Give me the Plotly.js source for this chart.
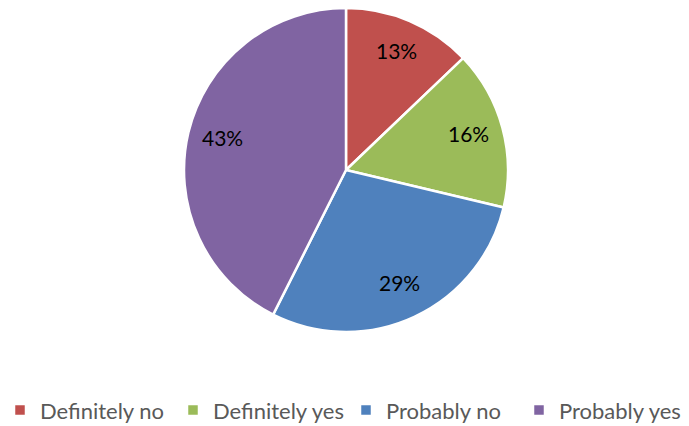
<!DOCTYPE html>
<html><head><meta charset="utf-8">
<script src="https://cdn.plot.ly/plotly-3.0.1.min.js"></script>
<style>html,body{margin:0;padding:0;background:#fff}</style>
</head><body>
<div id="chart" style="width:689px;height:426px"></div>
<script>
const labels = ["Definitely no", "Definitely yes", "Probably no", "Probably yes"];
const values = [13, 16, 29, 43];
const colors = ["#C0504D", "#9BBB59", "#4F81BD", "#8064A2"];

const W = 689, H = 426;
const dom = {x: [184/W, 508/W], y: [(H-332)/H, (H-8)/H]};

// data labels placed along each slice's mid-angle, computed from the values
const total = values.reduce((a, b) => a + b, 0);
const cx = (dom.x[0] + dom.x[1]) / 2 * W;
const cy = (1 - (dom.y[0] + dom.y[1]) / 2) * H;
const R = Math.min((dom.x[1] - dom.x[0]) * W, (dom.y[1] - dom.y[0]) * H) / 2;
const annotations = [];
let cum = 0;
values.forEach((v, i) => {
  const mid = (cum + v / 2) / total * 2 * Math.PI;
  cum += v;
  const px = cx + 0.785 * R * Math.sin(mid);
  const py = cy - 0.785 * R * Math.cos(mid);
  annotations.push({
    x: px / W, y: 1 - py / H, xref: "paper", yref: "paper",
    text: v + "%", showarrow: false, xanchor: "center", yanchor: "middle", yshift: 3,
    font: {family: "Lato, 'Open Sans', sans-serif", size: 21, color: "#000000"}
  });
});

Plotly.newPlot("chart", [{
  type: "pie",
  labels: labels,
  values: values,
  sort: false,
  direction: "clockwise",
  rotation: 0,
  marker: {colors: colors, line: {color: "#ffffff", width: 2.5}},
  textinfo: "none",
  domain: dom,
  hoverinfo: "label+percent"
}], {
  width: W, height: H,
  margin: {l: 0, r: 0, t: 0, b: 0, autoexpand: false},
  paper_bgcolor: "#ffffff",
  showlegend: true,
  annotations: annotations,
  legend: {orientation: "h", x: 0, xanchor: "left", y: -0.012, yanchor: "bottom",
           font: {family: "Lato, 'Open Sans', sans-serif", size: 22, color: "#595959"},
           itemwidth: 30, entrywidth: 128, entrywidthmode: "pixels", itemclick: false},
  font: {family: "Lato, sans-serif"}
}, {displayModeBar: false, staticPlot: true});
</script>
</body></html>
